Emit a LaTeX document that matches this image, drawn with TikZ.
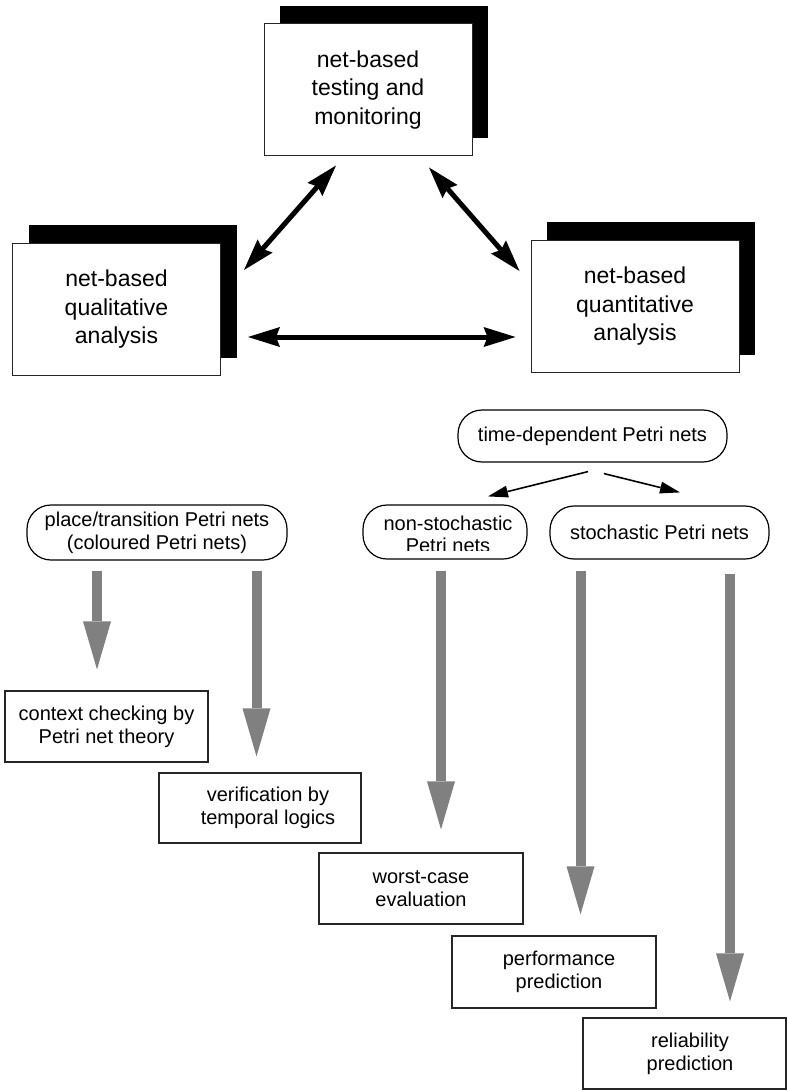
\documentclass[tikz,border=0pt]{standalone}
\usepackage{fontspec}
\setmainfont{Liberation Sans}
\usetikzlibrary{arrows.meta,calc,shadows}
\definecolor{flowgray}{RGB}{128,128,128}
\begin{document}
\begin{tikzpicture}[x=1pt,y=-1pt,
  bigbox/.style={draw=black!85, line width=1pt, fill=white,
    minimum width=208pt, minimum height=132pt, align=center, inner sep=0pt,
    font=\fontsize{23}{28.5}\selectfont,
    general shadow={fill=black, shadow xshift=16pt, shadow yshift=18pt}},
  pill/.style={draw=black, line width=1.2pt, rounded corners=24pt,
    align=center, inner sep=0pt, font=\fontsize{20}{23}\selectfont},
  pilltext/.style={align=center, inner sep=0pt, font=\fontsize{20}{22}\selectfont},
  resbox/.style={draw=black!85, line width=1.2pt, minimum width=203pt,
    minimum height=71pt, align=center, inner sep=0pt,
    font=\fontsize{20}{23}\selectfont},
  link/.style={line width=5pt,
    {Stealth[length=32pt,width=20pt,inset=4pt,line width=0pt]}-{Stealth[length=32pt,width=20pt,inset=4pt,line width=0pt]}},
  branch/.style={line width=1.6pt, -{Triangle[length=20pt,width=12pt,line width=0pt]}},
  flow/.style={draw=flowgray, line width=10pt,
    -{Triangle[length=48pt,width=28pt,line width=0pt,fill=flowgray]}}
]
\useasboundingbox (0,0) rectangle (787,1091);

% three analysis areas
\node[bigbox] (top)   at (368,90)    {net-based\\testing and\\monitoring};
\node[bigbox] (qual)  at (116.5,309.5) {net-based\\qualitative\\analysis};
\node[bigbox] (quant) at (635,306.5) {net-based\\quantitative\\analysis};

\draw[link] ($(top.south)+(-32,9)$) -- ($(qual.east)+(23,-39.5)$);
\draw[link] ($(top.south)+(61,11)$) -- ($(quant.west)+(-11,-35.5)$);
\draw[link] ($(qual.east)+(27,27.5)$) -- ($(quant.west)+(-15,30.5)$);

% net classes
\node[pill, minimum width=269pt, minimum height=52pt] (td) at (592.5,436)
  {time-dependent Petri nets};
\node[pill, minimum width=260pt, minimum height=55pt] (pt) at (157,532.5)
  {place/transition Petri nets\\(coloured Petri nets)};
\node[pill, minimum width=164pt, minimum height=54pt] (ns) at (445,532) {};
\begin{scope}
  \clip (365,507) rectangle (525,550);
  \node[pilltext] (nstext) at (448,534) {non-stochastic\\Petri nets};
\end{scope}
\node[pill, minimum width=219pt, minimum height=53pt] (st) at (659.5,532.5)
  {stochastic Petri nets};

\draw[branch] ($(td.south)+(-4.5,9)$) -- ($(ns.north)+(43,-8)$);
\draw[branch] ($(td.south)+(11.5,11)$) -- ($(st.north)+(20.5,-13)$);

% analysis techniques
\node[resbox] (ctx)  at (106.5,726.5) {context checking by\\Petri net theory};
\node[resbox, minimum width=202pt, minimum height=70pt] (ver) at (260,808)
  {\hspace*{16pt}verification by\\\hspace*{16pt}temporal logics};
\node[resbox, minimum width=204pt] (wc) at (421,888.5) {worst-case\\evaluation};
\node[resbox, minimum width=204pt, minimum height=72pt] (perf) at (554,972)
  {\hspace*{10pt}performance\\\hspace*{10pt}prediction};
\node[resbox] (rel) at (684.5,1053.5)
  {\hspace*{11pt}reliability\\\hspace*{11pt}prediction};

\draw[flow] ($(pt.south)+(-60,10)$)   -- ($(ctx.north)+(-9.5,-21)$);
\draw[flow] ($(pt.south)+(99.5,10)$)  -- ($(ver.north)+(-3.5,-16)$);
\draw[flow] ($(ns.south)+(-4,11)$)    -- ($(wc.north)+(20,-23)$);
\draw[flow] ($(st.south)+(-79,11)$)   -- ($(perf.north)+(26.5,-21)$);
\draw[flow] ($(st.south)+(70.5,14)$)  -- ($(rel.north)+(45.5,-16)$);
\end{tikzpicture}
\end{document}
